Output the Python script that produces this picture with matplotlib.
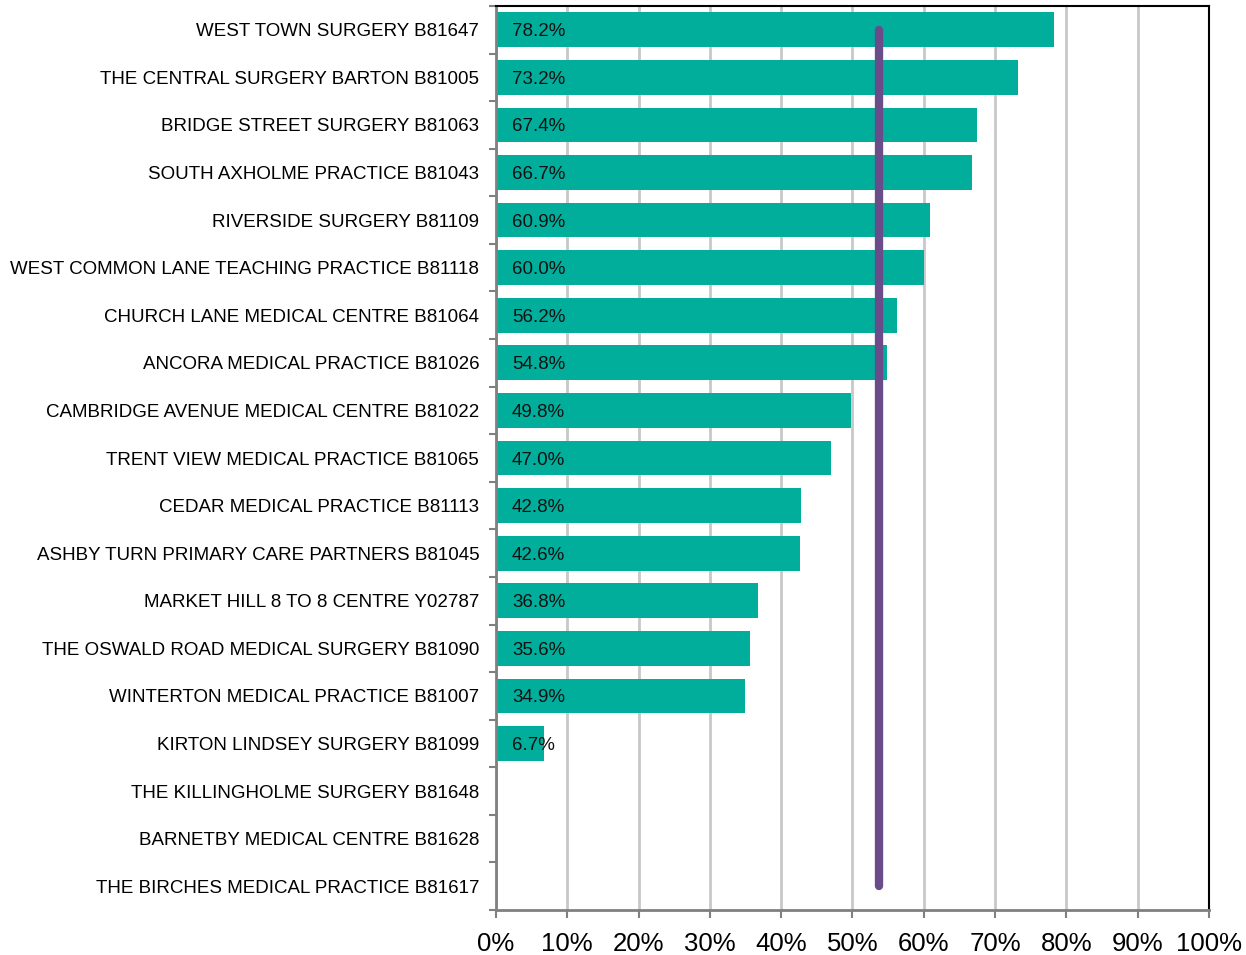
import matplotlib
matplotlib.use("Agg")
import matplotlib.pyplot as plt
import numpy as np
from matplotlib.ticker import FixedLocator

plt.rcParams['font.family'] = ['Liberation Sans', 'DejaVu Sans']

practices = [
    "WEST TOWN SURGERY B81647",
    "THE CENTRAL SURGERY BARTON B81005",
    "BRIDGE STREET SURGERY B81063",
    "SOUTH AXHOLME PRACTICE B81043",
    "RIVERSIDE SURGERY B81109",
    "WEST COMMON LANE TEACHING PRACTICE B81118",
    "CHURCH LANE MEDICAL CENTRE B81064",
    "ANCORA MEDICAL PRACTICE B81026",
    "CAMBRIDGE AVENUE MEDICAL CENTRE B81022",
    "TRENT VIEW MEDICAL PRACTICE B81065",
    "CEDAR MEDICAL PRACTICE B81113",
    "ASHBY TURN PRIMARY CARE PARTNERS B81045",
    "MARKET HILL 8 TO 8 CENTRE Y02787",
    "THE OSWALD ROAD MEDICAL SURGERY B81090",
    "WINTERTON MEDICAL PRACTICE B81007",
    "KIRTON LINDSEY SURGERY B81099",
    "THE KILLINGHOLME SURGERY B81648",
    "BARNETBY MEDICAL CENTRE B81628",
    "THE BIRCHES MEDICAL PRACTICE B81617",
]
values = [78.2, 73.2, 67.4, 66.7, 60.9, 60.0, 56.2, 54.8, 49.8, 47.0,
          42.8, 42.6, 36.8, 35.6, 34.9, 6.7, None, None, None]
average = 53.7
xticks = [0, 10, 20, 30, 40, 50, 60, 70, 80, 90, 100]
xtick_labels = ["0%", "10%", "20%", "30%", "40%", "50%", "60%", "70%", "80%", "90%", "100%"]

fig = plt.figure(figsize=(12.46, 9.55), dpi=100)
ax = fig.add_axes([0.398, 0.0471, 0.5723, 0.9466])

n = len(practices)
y = np.arange(n)
bar_color = "#00AE9B"
for yi, v in zip(y, values):
    if v is None:
        continue
    ax.barh(yi, v, height=0.73, color=bar_color, zorder=2)
    ax.annotate(f"{v:.1f}%", xy=(0, yi), xytext=(11.5, 0), textcoords="offset points",
                ha="left", va="center_baseline", fontsize=13.5, color="#111111", zorder=4)

ax.plot([average, average], [y[0], y[-1]], color="#6B4C8A", linewidth=6,
        solid_capstyle="round", zorder=3)

ax.set_xlim(0, 100)
ax.set_ylim(n - 0.5, -0.5)
ax.set_xticks(xticks)
ax.set_xticklabels(xtick_labels, fontsize=18.5)
ax.set_yticks(y)
ax.set_yticklabels(practices, fontsize=13.5, va="center_baseline")
ax.tick_params(axis="y", which="major", length=0, pad=12)
ax.yaxis.set_minor_locator(FixedLocator(np.arange(-0.5, n, 1.0)))
ax.tick_params(axis="y", which="minor", length=5, width=1.5, color="#808080", direction="out")
ax.tick_params(axis="x", which="major", length=6, width=1.5, color="#808080", pad=10)

ax.grid(axis="x", color="#C8C8C8", linewidth=2, zorder=0)
ax.set_axisbelow(True)

for side in ["top", "right"]:
    ax.spines[side].set_color("black")
    ax.spines[side].set_linewidth(1.5)
for side in ["left", "bottom"]:
    ax.spines[side].set_color("#808080")
    ax.spines[side].set_linewidth(2)

fig.savefig("out.png", dpi=100)
